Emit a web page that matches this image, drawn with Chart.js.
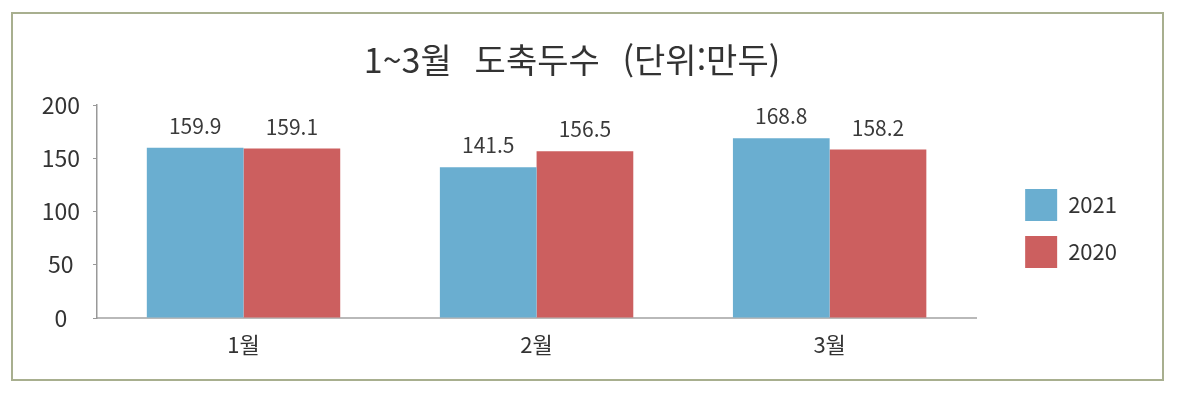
<!DOCTYPE html>
<html lang="ko">
<head>
<meta charset="utf-8">
<title>1~3월 도축두수</title>
<script src="https://cdn.jsdelivr.net/npm/chart.js@4.4.1/dist/chart.umd.min.js"></script>
<style>
  html, body { margin: 0; padding: 0; background: #fff; }
  .wrap { position: relative; width: 1180px; height: 395px; }
  .frame { position: absolute; left: 11px; top: 12px; width: 1149px; height: 365px; border: 2px solid #a8af8f; pointer-events: none; }
  canvas { position: absolute; left: 0; top: 0; }
</style>
</head>
<body>
<div class="wrap">
  <canvas id="myChart" width="1180" height="395"></canvas>
  <div class="frame"></div>
</div>
<script>
// ***********data***********
const months = ['1월', '2월', '3월'];
const seriesNames = ['2021', '2020'];
const values2021 = [159.9, 141.5, 168.8];
const values2020 = [159.1, 156.5, 158.2];
const yTicks = [0, 50, 100, 150, 200];
const chartTitle = '1~3월   도축두수   (단위:만두)';

const FONT = '"Noto Sans CJK KR", "Noto Sans", sans-serif';
Chart.defaults.font.family = FONT;
Chart.defaults.color = '#333';

// ***********value labels over bars***********
const barLabels = {
  id: 'barLabels',
  afterDatasetsDraw(chart) {
    const ctx = chart.ctx;
    ctx.save();
    ctx.font = '21px ' + FONT;
    ctx.fillStyle = '#3a3a3a';
    ctx.textAlign = 'center';
    ctx.textBaseline = 'middle';
    chart.data.datasets.forEach((ds, i) => {
      chart.getDatasetMeta(i).data.forEach((bar, j) => {
        ctx.fillText(ds.data[j].toFixed(1), bar.x, bar.y - 22);
      });
    });
    ctx.restore();
  }
};

const ctx = document.getElementById('myChart');
new Chart(ctx, {
  type: 'bar',
  data: {
    labels: months,
    datasets: [{
      label: seriesNames[0],
      data: values2021,
      backgroundColor: '#6aaed0'
    }, {
      label: seriesNames[1],
      data: values2020,
      backgroundColor: '#cc5f5f'
    }]
  },
  options: {
    responsive: false,
    animation: false,
    layout: { padding: { left: 17, right: 53, top: 13, bottom: 23 } },
    datasets: { bar: { categoryPercentage: 0.66, barPercentage: 1.0 } },
    plugins: {
      title: {
        display: true,
        text: chartTitle,
        color: '#333',
        font: { size: 34, weight: 'normal' },
        padding: { top: 26.6, bottom: 24.6 }
      },
      legend: {
        position: 'right',
        fullSize: false,
        title: { display: true, text: '', padding: { top: 10, bottom: 9.6 } },
        labels: { boxWidth: 32, boxHeight: 32, padding: 15, color: '#333', font: { size: 22 } }
      },
      tooltip: { enabled: false }
    },
    scales: {
      x: {
        grid: { display: false, drawTicks: false },
        border: { color: '#b9b9b9', width: 2 },
        ticks: { padding: 13.8, color: '#333', font: { size: 22 } }
      },
      y: {
        min: 0,
        max: 200,
        afterBuildTicks(s) { s.ticks = yTicks.map(v => ({ value: v })); },
        ticks: { padding: 13, crossAlign: 'center', color: '#333', font: { size: 23 } },
        grid: { drawOnChartArea: false, tickLength: 4, color: '#999' },
        border: { color: '#999', width: 1.5 },
        afterFit(s) { s.width = 97 - 17; }
      },
      gap: {
        position: 'right',
        display: true,
        grid: { display: false },
        border: { display: false },
        ticks: { display: false },
        afterFit(s) { s.width = 34; }
      }
    }
  },
  plugins: [barLabels]
});
</script>
</body>
</html>
